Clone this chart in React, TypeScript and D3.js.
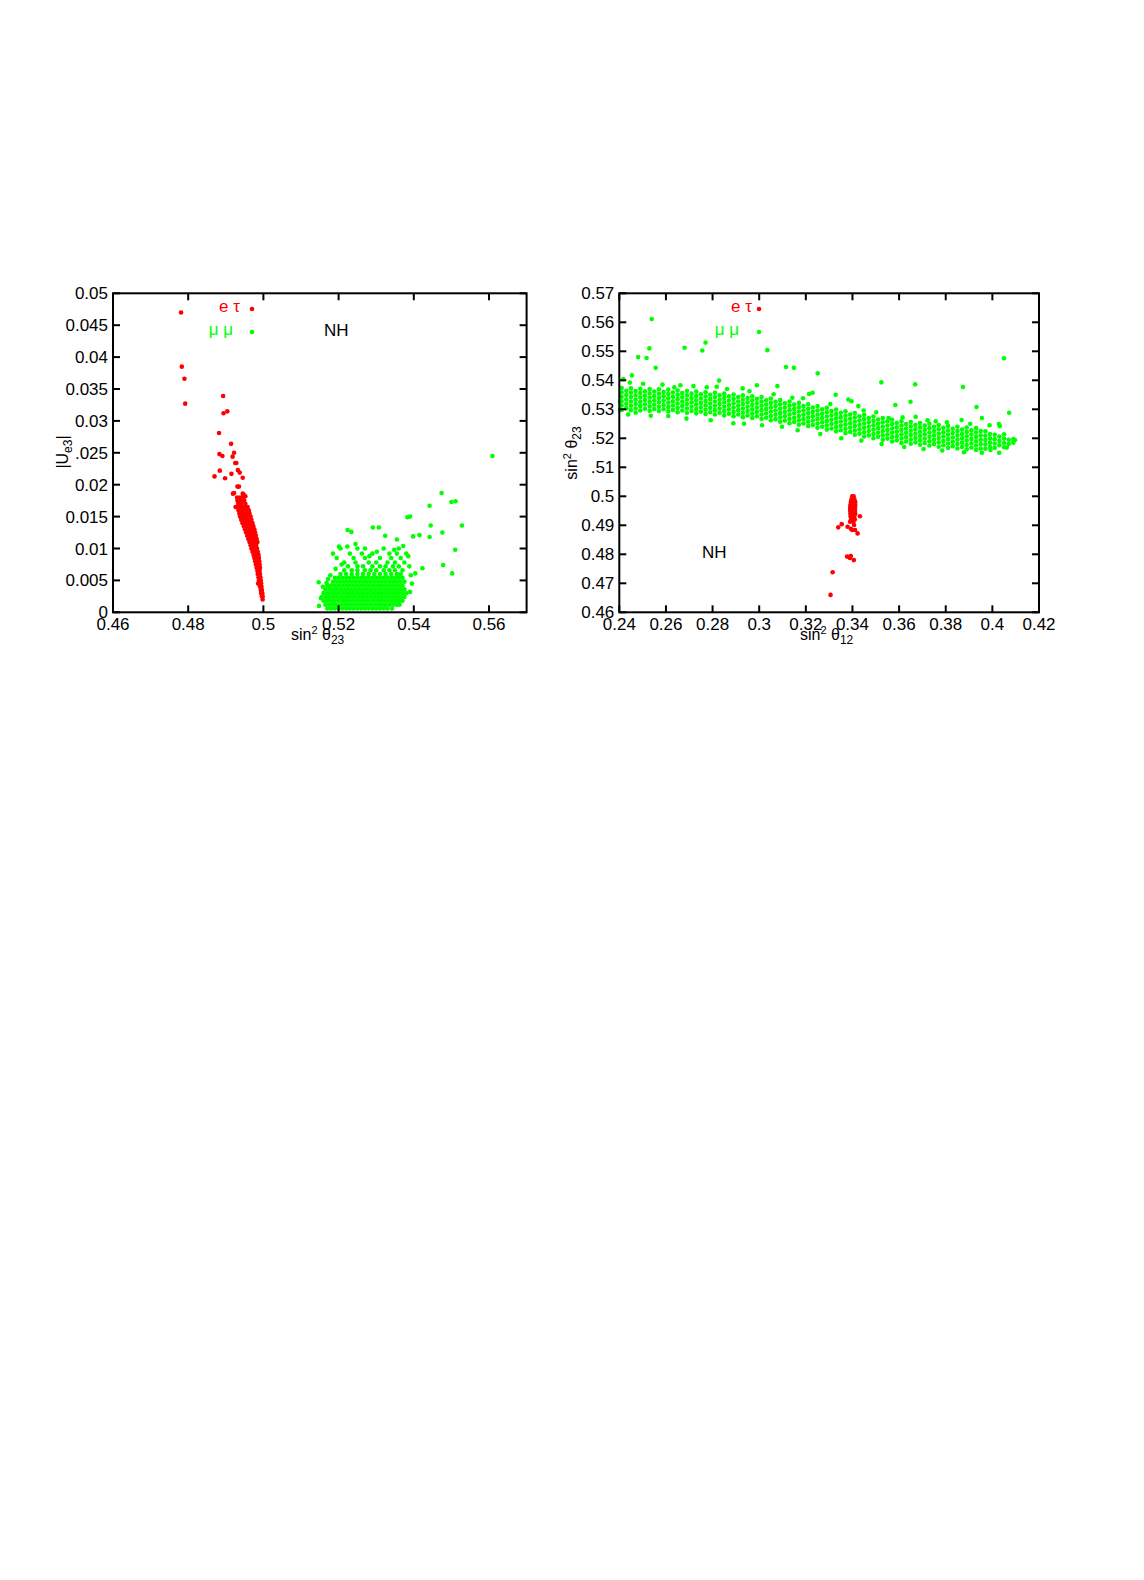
import React from 'react';
import * as d3 from 'd3';

// ---------------- Left panel data: x = sin^2 θ23, y = |Ue3| ----------------
const leftXTicks = [0.46, 0.48, 0.5, 0.52, 0.54, 0.56];
const leftXTickLabels = ['0.46', '0.48', '0.5', '0.52', '0.54', '0.56'];
const leftYTicks = [0.05, 0.045, 0.04, 0.035, 0.03, 0.025, 0.02, 0.015, 0.01, 0.005, 0];
const leftYTickLabels = ['0.05', '0.045', '0.04', '0.035', '0.03', '.025', '0.02', '0.015', '0.01', '0.005', '0'];

const etauLeftSparse: [number, number][] = [
  [0.4781, 0.047], [0.4783, 0.0385], [0.479, 0.0366], [0.4792, 0.0327],
  [0.4893, 0.0339], [0.4894, 0.0312], [0.4904, 0.0315], [0.4882, 0.0281],
  [0.4914, 0.0264], [0.4883, 0.0248], [0.4891, 0.0245], [0.4922, 0.025],
  [0.4918, 0.0244], [0.4925, 0.0234], [0.4928, 0.0234], [0.4884, 0.0222],
  [0.4915, 0.0217], [0.4932, 0.0223], [0.4937, 0.0219], [0.487, 0.0213],
  [0.4898, 0.021], [0.4945, 0.0211], [0.4931, 0.0197], [0.4935, 0.0197],
  [0.4919, 0.0186], [0.4922, 0.0187], [0.4945, 0.0186], [0.4948, 0.0184],
  [0.4952, 0.0182], [0.4926, 0.0165], [0.4986, 0.0045],
];
const etauLeftRows: [number, number[]][] = [
  [0.018, [0.493, 0.4938, 0.4946]],
  [0.0175, [0.4931, 0.494, 0.4949]],
  [0.017, [0.4933, 0.4941, 0.4952]],
  [0.0165, [0.493, 0.4939, 0.4948, 0.4958]],
  [0.016, [0.4934, 0.4943, 0.4952, 0.4961]],
  [0.0155, [0.4936, 0.4945, 0.4954, 0.4963]],
  [0.015, [0.4938, 0.4947, 0.4956, 0.4966]],
  [0.0145, [0.4941, 0.495, 0.4959, 0.4968]],
  [0.014, [0.4944, 0.4953, 0.4962, 0.4971]],
  [0.0135, [0.4948, 0.4957, 0.4965, 0.4973]],
  [0.013, [0.4951, 0.4959, 0.4967, 0.4976]],
  [0.0125, [0.4954, 0.4962, 0.497, 0.4978]],
  [0.012, [0.4957, 0.4965, 0.4973, 0.498]],
  [0.0115, [0.496, 0.4968, 0.4975, 0.4982]],
  [0.011, [0.4963, 0.4971, 0.4978, 0.4984]],
  [0.0105, [0.4966, 0.4974, 0.4981]],
  [0.01, [0.4968, 0.4976, 0.4983]],
  [0.0095, [0.4971, 0.4978, 0.4985]],
  [0.009, [0.4974, 0.4981, 0.4987]],
  [0.0085, [0.4976, 0.4983, 0.4988]],
  [0.008, [0.4978, 0.4985, 0.4989]],
  [0.0075, [0.498, 0.4987, 0.499]],
  [0.007, [0.4982, 0.4988, 0.4991]],
  [0.0065, [0.4984, 0.499]],
  [0.006, [0.4985, 0.4991]],
  [0.0055, [0.4987, 0.4992]],
  [0.005, [0.4988, 0.4993]],
  [0.0045, [0.499, 0.4994]],
  [0.004, [0.4991, 0.4995]],
  [0.0035, [0.4993, 0.4996]],
  [0.003, [0.4994, 0.4997]],
  [0.0025, [0.4996, 0.4998]],
  [0.002, [0.4998]],
];

const mumuLeftSparse: [number, number][] = [
  [0.5609, 0.0245], [0.5474, 0.0187], [0.55, 0.0173], [0.5511, 0.0174],
  [0.5442, 0.0167], [0.5383, 0.0149], [0.539, 0.015], [0.5528, 0.0136],
  [0.5445, 0.0136], [0.5476, 0.0125], [0.5415, 0.0121], [0.5398, 0.0119],
  [0.5442, 0.0118], [0.551, 0.0098], [0.5478, 0.0074], [0.5423, 0.0069],
  [0.5404, 0.0061], [0.5502, 0.0061], [0.5224, 0.0129], [0.5234, 0.0126],
  [0.5291, 0.0133], [0.5307, 0.0133], [0.5324, 0.012], [0.5355, 0.0114],
  [0.5201, 0.0103], [0.5223, 0.0103], [0.5245, 0.0107], [0.527, 0.01],
  [0.5147, 0.0047], [0.5153, 0.0022], [0.5148, 0.001],
  [0.5172, 0.0052], [0.5178, 0.0058], [0.5192, 0.0068], [0.5208, 0.0075],
  [0.5262, 0.0092], [0.5282, 0.0088], [0.5302, 0.0095], [0.5348, 0.0098],
  [0.5372, 0.0104], [0.5385, 0.0088], [0.5388, 0.0072], [0.5392, 0.0058],
  [0.5395, 0.0045], [0.539, 0.0032], [0.5362, 0.0012], [0.5342, 0.0006],
  [0.5158, 0.004], [0.5168, 0.0046],
];
const mumuLeftRows: [number, number[]][] = [
  [0.0006, [0.517, 0.518, 0.519, 0.52, 0.521, 0.522, 0.523, 0.524, 0.525, 0.526, 0.527, 0.528, 0.529, 0.53, 0.531, 0.532, 0.533]],
  [0.0012, [0.5165, 0.5175, 0.5185, 0.5195, 0.5205, 0.5215, 0.5225, 0.5235, 0.5245, 0.5255, 0.5265, 0.5275, 0.5285, 0.5295, 0.5305, 0.5315, 0.5325, 0.5335, 0.5345, 0.5355]],
  [0.0018, [0.516, 0.517, 0.518, 0.519, 0.52, 0.521, 0.522, 0.523, 0.524, 0.525, 0.526, 0.527, 0.528, 0.529, 0.53, 0.531, 0.532, 0.533, 0.534, 0.535, 0.536, 0.537]],
  [0.0024, [0.5155, 0.5165, 0.5175, 0.5185, 0.5195, 0.5205, 0.5215, 0.5225, 0.5235, 0.5245, 0.5255, 0.5265, 0.5275, 0.5285, 0.5295, 0.5305, 0.5315, 0.5325, 0.5335, 0.5345, 0.5355, 0.5365, 0.5375]],
  [0.003, [0.516, 0.517, 0.518, 0.519, 0.52, 0.521, 0.522, 0.523, 0.524, 0.525, 0.526, 0.527, 0.528, 0.529, 0.53, 0.531, 0.532, 0.533, 0.534, 0.535, 0.536, 0.537, 0.538]],
  [0.0036, [0.5165, 0.5175, 0.5185, 0.5195, 0.5205, 0.5215, 0.5225, 0.5235, 0.5245, 0.5255, 0.5265, 0.5275, 0.5285, 0.5295, 0.5305, 0.5315, 0.5325, 0.5335, 0.5345, 0.5355, 0.5365, 0.5375]],
  [0.0042, [0.517, 0.518, 0.519, 0.52, 0.521, 0.522, 0.523, 0.524, 0.525, 0.526, 0.527, 0.528, 0.529, 0.53, 0.531, 0.532, 0.533, 0.534, 0.535, 0.536, 0.537]],
  [0.0048, [0.5185, 0.5195, 0.5205, 0.5215, 0.5225, 0.5235, 0.5245, 0.5255, 0.5265, 0.5275, 0.5285, 0.5295, 0.5305, 0.5315, 0.5325, 0.5335, 0.5345, 0.5355, 0.5365, 0.5375]],
  [0.0054, [0.519, 0.52, 0.521, 0.522, 0.523, 0.524, 0.525, 0.526, 0.527, 0.528, 0.529, 0.53, 0.531, 0.532, 0.533, 0.534, 0.535, 0.536, 0.537]],
  [0.006, [0.5205, 0.522, 0.5235, 0.525, 0.5265, 0.528, 0.5295, 0.531, 0.5325, 0.534, 0.5355, 0.5365]],
  [0.0066, [0.5215, 0.5235, 0.525, 0.527, 0.5285, 0.53, 0.532, 0.5335, 0.535, 0.537]],
  [0.0072, [0.5225, 0.525, 0.5265, 0.529, 0.531, 0.5325, 0.5345, 0.536]],
  [0.0078, [0.5215, 0.5245, 0.528, 0.53, 0.533, 0.535, 0.5375]],
  [0.0085, [0.5195, 0.524, 0.527, 0.531, 0.534, 0.5365]],
  [0.0092, [0.5185, 0.523, 0.529, 0.5335, 0.5355, 0.538]],
  [0.01, [0.5205, 0.525, 0.532, 0.536]],
];

// ---------------- Right panel data: x = sin^2 θ12, y = sin^2 θ23 ----------------
const rightXTicks = [0.24, 0.26, 0.28, 0.3, 0.32, 0.34, 0.36, 0.38, 0.4, 0.42];
const rightXTickLabels = ['0.24', '0.26', '0.28', '0.3', '0.32', '0.34', '0.36', '0.38', '0.4', '0.42'];
const rightYTicks = [0.57, 0.56, 0.55, 0.54, 0.53, 0.52, 0.51, 0.5, 0.49, 0.48, 0.47, 0.46];
const rightYTickLabels = ['0.57', '0.56', '0.55', '0.54', '0.53', '.52', '.51', '0.5', '0.49', '0.48', '0.47', '0.46'];

const etauRightSparse: [number, number][] = [
  [0.3432, 0.4931], [0.3354, 0.4904], [0.3339, 0.4893], [0.3379, 0.4895],
  [0.3393, 0.4888], [0.3399, 0.4884], [0.3411, 0.4884], [0.3422, 0.4872],
  [0.3407, 0.4901], [0.3377, 0.4792], [0.3389, 0.4787], [0.3393, 0.4794],
  [0.3406, 0.478], [0.3315, 0.4738], [0.3306, 0.466],
];
const etauRightRows: [number, number[]][] = [
  [0.5, [0.3399, 0.3405]],
  [0.499, [0.3396, 0.3402, 0.3408]],
  [0.498, [0.3393, 0.34, 0.3407, 0.3412]],
  [0.497, [0.3391, 0.3398, 0.3405, 0.3412]],
  [0.496, [0.339, 0.3397, 0.3404, 0.3411]],
  [0.495, [0.339, 0.3397, 0.3404, 0.3411]],
  [0.494, [0.3391, 0.3398, 0.3405, 0.3412]],
  [0.493, [0.3392, 0.34, 0.3408]],
  [0.492, [0.3394, 0.3402, 0.341]],
  [0.4912, [0.339, 0.3404]],
];

const mumuRightSparse: [number, number][] = [
  [0.2539, 0.5611], [0.2529, 0.551], [0.2517, 0.5477], [0.2481, 0.548],
  [0.2556, 0.5443], [0.2454, 0.5417], [0.2417, 0.5404], [0.2403, 0.5326],
  [0.2403, 0.5298], [0.268, 0.5512], [0.2756, 0.5503], [0.277, 0.553],
  [0.2828, 0.5399], [0.2818, 0.5378], [0.3035, 0.5504], [0.299, 0.5383],
  [0.2929, 0.5372], [0.2636, 0.5376], [0.3078, 0.538], [0.3115, 0.5446],
  [0.3149, 0.5443], [0.3251, 0.5424], [0.3229, 0.5357], [0.3214, 0.5353],
  [0.3328, 0.535], [0.3382, 0.5334], [0.3396, 0.5328], [0.3425, 0.5311],
  [0.3524, 0.5393], [0.3584, 0.5315], [0.3669, 0.5386], [0.3649, 0.5326],
  [0.3671, 0.5274], [0.3874, 0.5377], [0.3932, 0.5308], [0.3955, 0.527],
  [0.405, 0.5476], [0.4072, 0.5288], [0.4028, 0.5249], [0.4032, 0.5242],
  [0.3955, 0.515], [0.4029, 0.515], [0.4097, 0.5194], [0.3868, 0.5263],
  [0.3757, 0.5259], [0.3555, 0.527], [0.2889, 0.5252], [0.261, 0.5277],
  [0.247, 0.5288],
  [0.2445, 0.5392], [0.2502, 0.5388], [0.2585, 0.5385], [0.2662, 0.5383],
  [0.2718, 0.538], [0.2775, 0.5376], [0.2862, 0.537], [0.2958, 0.5362],
  [0.3062, 0.5352], [0.3142, 0.534], [0.3188, 0.5338], [0.3305, 0.5318],
  [0.3448, 0.5296], [0.3502, 0.529], [0.3615, 0.5272], [0.3722, 0.5262],
  [0.3805, 0.5255], [0.3905, 0.525], [0.3988, 0.5245],
  [0.2438, 0.5282], [0.2535, 0.5278], [0.2688, 0.5268], [0.2792, 0.5262],
  [0.2935, 0.525], [0.3012, 0.5245], [0.3098, 0.524], [0.3165, 0.5228],
  [0.3262, 0.5215], [0.3352, 0.52], [0.3438, 0.5192], [0.3525, 0.518],
  [0.3622, 0.517], [0.3705, 0.5163], [0.3785, 0.5158], [0.3878, 0.5152],
  [0.3992, 0.516], [0.4062, 0.5168],
];
const mumuRightCols: [number, number[]][] = [
  [0.241, [0.5298, 0.5313, 0.5328, 0.5343, 0.5358, 0.5373]],
  [0.243, [0.5304, 0.5319, 0.5334, 0.5349, 0.5364]],
  [0.245, [0.5297, 0.5312, 0.5327, 0.5342, 0.5357, 0.5372]],
  [0.247, [0.5303, 0.5318, 0.5333, 0.5348, 0.5363]],
  [0.249, [0.5296, 0.5311, 0.5326, 0.5341, 0.5356, 0.5371]],
  [0.251, [0.5302, 0.5317, 0.5332, 0.5347, 0.5362]],
  [0.253, [0.5295, 0.531, 0.5325, 0.534, 0.5355, 0.537]],
  [0.255, [0.5301, 0.5316, 0.5331, 0.5346, 0.5361]],
  [0.257, [0.5294, 0.5309, 0.5324, 0.5339, 0.5354, 0.5369]],
  [0.259, [0.53, 0.5315, 0.533, 0.5345, 0.536]],
  [0.261, [0.5293, 0.5308, 0.5323, 0.5338, 0.5353, 0.5368]],
  [0.263, [0.5298, 0.5313, 0.5328, 0.5343, 0.5358]],
  [0.265, [0.529, 0.5305, 0.532, 0.5335, 0.535, 0.5365]],
  [0.267, [0.5296, 0.5311, 0.5326, 0.5341, 0.5356]],
  [0.269, [0.5288, 0.5303, 0.5318, 0.5333, 0.5348, 0.5363]],
  [0.271, [0.5294, 0.5309, 0.5324, 0.5339, 0.5354]],
  [0.273, [0.5286, 0.5301, 0.5316, 0.5331, 0.5346, 0.5361]],
  [0.275, [0.5292, 0.5307, 0.5322, 0.5337, 0.5352]],
  [0.277, [0.5284, 0.5299, 0.5314, 0.5329, 0.5344, 0.5359]],
  [0.279, [0.529, 0.5305, 0.532, 0.5335, 0.535]],
  [0.281, [0.5282, 0.5297, 0.5312, 0.5327, 0.5342, 0.5357]],
  [0.283, [0.5288, 0.5303, 0.5318, 0.5333, 0.5348]],
  [0.285, [0.5279, 0.5294, 0.5309, 0.5324, 0.5339, 0.5354]],
  [0.287, [0.5285, 0.53, 0.5315, 0.533, 0.5345]],
  [0.289, [0.5276, 0.5291, 0.5306, 0.5321, 0.5336, 0.5351]],
  [0.291, [0.5282, 0.5297, 0.5312, 0.5327, 0.5342]],
  [0.293, [0.5273, 0.5288, 0.5303, 0.5318, 0.5333, 0.5348]],
  [0.295, [0.5279, 0.5294, 0.5309, 0.5324, 0.5339]],
  [0.297, [0.527, 0.5285, 0.53, 0.5315, 0.533, 0.5345]],
  [0.299, [0.5276, 0.5291, 0.5306, 0.5321, 0.5336]],
  [0.301, [0.5267, 0.5282, 0.5297, 0.5312, 0.5327, 0.5342]],
  [0.303, [0.5271, 0.5286, 0.5301, 0.5316, 0.5331]],
  [0.305, [0.5262, 0.5277, 0.5292, 0.5307, 0.5322, 0.5337]],
  [0.307, [0.5266, 0.5281, 0.5296, 0.5311, 0.5326]],
  [0.309, [0.5257, 0.5272, 0.5287, 0.5302, 0.5317, 0.5332]],
  [0.311, [0.5261, 0.5276, 0.5291, 0.5306, 0.5321]],
  [0.313, [0.5252, 0.5267, 0.5282, 0.5297, 0.5312, 0.5327]],
  [0.315, [0.5256, 0.5271, 0.5286, 0.5301, 0.5316]],
  [0.317, [0.5247, 0.5262, 0.5277, 0.5292, 0.5307, 0.5322]],
  [0.319, [0.5251, 0.5266, 0.5281, 0.5296, 0.5311]],
  [0.321, [0.5242, 0.5257, 0.5272, 0.5287, 0.5302, 0.5317]],
  [0.323, [0.5246, 0.5261, 0.5276, 0.5291, 0.5306]],
  [0.325, [0.5236, 0.5251, 0.5266, 0.5281, 0.5296, 0.5311]],
  [0.327, [0.524, 0.5255, 0.527, 0.5285, 0.53]],
  [0.329, [0.523, 0.5245, 0.526, 0.5275, 0.529, 0.5305]],
  [0.331, [0.5234, 0.5249, 0.5264, 0.5279, 0.5294]],
  [0.333, [0.5224, 0.5239, 0.5254, 0.5269, 0.5284, 0.5299]],
  [0.335, [0.5228, 0.5243, 0.5258, 0.5273, 0.5288]],
  [0.337, [0.5218, 0.5233, 0.5248, 0.5263, 0.5278, 0.5293]],
  [0.339, [0.5222, 0.5237, 0.5252, 0.5267, 0.5282]],
  [0.341, [0.5212, 0.5227, 0.5242, 0.5257, 0.5272, 0.5287]],
  [0.343, [0.5216, 0.5231, 0.5246, 0.5261, 0.5276]],
  [0.345, [0.5206, 0.5221, 0.5236, 0.5251, 0.5266, 0.5281]],
  [0.347, [0.521, 0.5225, 0.524, 0.5255, 0.527]],
  [0.349, [0.52, 0.5215, 0.523, 0.5245, 0.526, 0.5275]],
  [0.351, [0.5205, 0.522, 0.5235, 0.525, 0.5265]],
  [0.353, [0.5195, 0.521, 0.5225, 0.524, 0.5255, 0.527]],
  [0.355, [0.5199, 0.5214, 0.5229, 0.5244, 0.5259]],
  [0.357, [0.5189, 0.5204, 0.5219, 0.5234, 0.5249, 0.5264]],
  [0.359, [0.5193, 0.5208, 0.5223, 0.5238, 0.5253]],
  [0.361, [0.5184, 0.5199, 0.5214, 0.5229, 0.5244, 0.5259]],
  [0.363, [0.5189, 0.5204, 0.5219, 0.5234, 0.5249]],
  [0.365, [0.5181, 0.5196, 0.5211, 0.5226, 0.5241, 0.5256]],
  [0.367, [0.5186, 0.5201, 0.5216, 0.5231, 0.5246]],
  [0.369, [0.5178, 0.5193, 0.5208, 0.5223, 0.5238, 0.5253]],
  [0.371, [0.5184, 0.5199, 0.5214, 0.5229, 0.5244]],
  [0.373, [0.5175, 0.519, 0.5205, 0.522, 0.5235, 0.525]],
  [0.375, [0.518, 0.5195, 0.521, 0.5225, 0.524]],
  [0.377, [0.5171, 0.5186, 0.5201, 0.5216, 0.5231, 0.5246]],
  [0.379, [0.5176, 0.5191, 0.5206, 0.5221, 0.5236]],
  [0.381, [0.5167, 0.5182, 0.5197, 0.5212, 0.5227, 0.5242]],
  [0.383, [0.5173, 0.5188, 0.5203, 0.5218, 0.5233]],
  [0.385, [0.5165, 0.518, 0.5195, 0.521, 0.5225, 0.524]],
  [0.387, [0.517, 0.5185, 0.52, 0.5215, 0.523]],
  [0.389, [0.5162, 0.5177, 0.5192, 0.5207, 0.5222, 0.5237]],
  [0.391, [0.5168, 0.5183, 0.5198, 0.5213, 0.5228]],
  [0.393, [0.516, 0.5175, 0.519, 0.5205, 0.522, 0.5235]],
  [0.395, [0.5165, 0.518, 0.5195, 0.521, 0.5225]],
  [0.397, [0.5164, 0.5179, 0.5194, 0.5209, 0.5224]],
  [0.399, [0.517, 0.5185, 0.52, 0.5215]],
  [0.401, [0.5167, 0.5182, 0.5197, 0.5212]],
  [0.403, [0.5176, 0.5191, 0.5206]],
  [0.405, [0.5169, 0.5184, 0.5199, 0.5214]],
  [0.407, [0.518, 0.5195]],
  [0.409, [0.5185, 0.5197]],
];

const RED = '#ff0000';
const GREEN = '#00ff00';
const FONT = '"Liberation Sans", Arial, Helvetica, sans-serif';
const R = 2.3;
const TICK = 7;

const flattenRowsY = (rows: [number, number[]][]) =>
  rows.flatMap(([y, xs]) => xs.map((x) => [x, y] as [number, number]));
const flattenColsX = (cols: [number, number[]][]) =>
  cols.flatMap(([x, ys]) => ys.map((y) => [x, y] as [number, number]));

type Scale = d3.ScaleLinear<number, number>;

function Frame({ x, y, xTicks, xLabels, yTicks, yLabels }: {
  x: Scale; y: Scale; xTicks: number[]; xLabels: string[]; yTicks: number[]; yLabels: string[];
}) {
  const [x0, x1] = x.range();
  const [y0, y1] = y.range();
  return (
    <g>
      {xTicks.map((t, i) => (
        <g key={'xt' + i}>
          <line x1={x(t)} x2={x(t)} y1={y0} y2={y0 - TICK} stroke="#000" strokeWidth={2} />
          <line x1={x(t)} x2={x(t)} y1={y1} y2={y1 + TICK} stroke="#000" strokeWidth={2} />
          <text x={x(t)} y={y0 + 17.5} fontSize={17} textAnchor="middle" fontFamily={FONT}>{xLabels[i]}</text>
        </g>
      ))}
      {yTicks.map((t, i) => (
        <g key={'yt' + i}>
          <line x1={x0} x2={x0 + TICK} y1={y(t)} y2={y(t)} stroke="#000" strokeWidth={2} />
          <line x1={x1} x2={x1 - TICK} y1={y(t)} y2={y(t)} stroke="#000" strokeWidth={2} />
          <text x={x0 - 5} y={y(t) + 6} fontSize={17} textAnchor="end" fontFamily={FONT}>{yLabels[i]}</text>
        </g>
      ))}
      <rect x={x0} y={y1} width={x1 - x0} height={y0 - y1} fill="none" stroke="#000" strokeWidth={2} />
    </g>
  );
}

function Dots({ pts, x, y, color }: { pts: [number, number][]; x: Scale; y: Scale; color: string }) {
  return (
    <g fill={color}>
      {pts.map(([a, b], i) => <circle key={i} cx={x(a)} cy={y(b)} r={R} />)}
    </g>
  );
}

export default function App() {
  const lx = d3.scaleLinear().domain([0.46, 0.57]).range([113, 526.6]);
  const ly = d3.scaleLinear().domain([0, 0.05]).range([612.3, 293.3]);
  const rx = d3.scaleLinear().domain([0.24, 0.42]).range([619.3, 1039]);
  const ry = d3.scaleLinear().domain([0.46, 0.57]).range([612.3, 293.3]);

  const etauL = [...etauLeftSparse, ...flattenRowsY(etauLeftRows)];
  const mumuL = [...mumuLeftSparse, ...flattenRowsY(mumuLeftRows)];
  const etauR = [...etauRightSparse, ...flattenRowsY(etauRightRows)];
  const mumuR = [...mumuRightSparse, ...flattenColsX(mumuRightCols)];

  return (
    <svg width={1144} height={1580} style={{ position: 'absolute', left: 0, top: 0, background: '#fff' }}
      xmlns="http://www.w3.org/2000/svg">
      <rect x={0} y={0} width={1144} height={1580} fill="#fff" />
      {/* Left panel */}
      <Dots pts={etauL} x={lx} y={ly} color={RED} />
      <Dots pts={mumuL} x={lx} y={ly} color={GREEN} />
      <Frame x={lx} y={ly} xTicks={leftXTicks} xLabels={leftXTickLabels} yTicks={leftYTicks} yLabels={leftYTickLabels} />
      <text x={240} y={312} fontSize={17} fill={RED} textAnchor="end" fontFamily={FONT}>e τ</text>
      <circle cx={252} cy={309} r={R} fill={RED} />
      <text x={233} y={335} fontSize={17} fill={GREEN} textAnchor="end" fontFamily={FONT}>μ μ</text>
      <circle cx={252} cy={332} r={R} fill={GREEN} />
      <text x={324} y={336} fontSize={17} fontFamily={FONT}>NH</text>
      <text x={291} y={640} fontSize={16} fontFamily={FONT}>
        sin<tspan dy={-6} fontSize={11}>2</tspan><tspan dy={6}> θ</tspan><tspan dy={4} fontSize={12}>23</tspan>
      </text>
      <text transform="translate(68,452) rotate(-90)" fontSize={16} textAnchor="middle" fontFamily={FONT}>
        |U<tspan dy={4} fontSize={12}>e3</tspan><tspan dy={-4}>|</tspan>
      </text>

      {/* Right panel */}
      <Dots pts={mumuR} x={rx} y={ry} color={GREEN} />
      <Dots pts={etauR} x={rx} y={ry} color={RED} />
      <Frame x={rx} y={ry} xTicks={rightXTicks} xLabels={rightXTickLabels} yTicks={rightYTicks} yLabels={rightYTickLabels} />
      <text x={752} y={312} fontSize={17} fill={RED} textAnchor="end" fontFamily={FONT}>e τ</text>
      <circle cx={759} cy={309} r={R} fill={RED} />
      <text x={739} y={335} fontSize={17} fill={GREEN} textAnchor="end" fontFamily={FONT}>μ μ</text>
      <circle cx={759} cy={332} r={R} fill={GREEN} />
      <text x={702} y={558} fontSize={17} fontFamily={FONT}>NH</text>
      <text x={800} y={640} fontSize={16} fontFamily={FONT}>
        sin<tspan dy={-6} fontSize={11}>2</tspan><tspan dy={6}> θ</tspan><tspan dy={4} fontSize={12}>12</tspan>
      </text>
      <text transform="translate(577,453) rotate(-90)" fontSize={16} textAnchor="middle" fontFamily={FONT}>
        sin<tspan dy={-6} fontSize={11}>2</tspan><tspan dy={6}> θ</tspan><tspan dy={4} fontSize={12}>23</tspan>
      </text>
    </svg>
  );
}
